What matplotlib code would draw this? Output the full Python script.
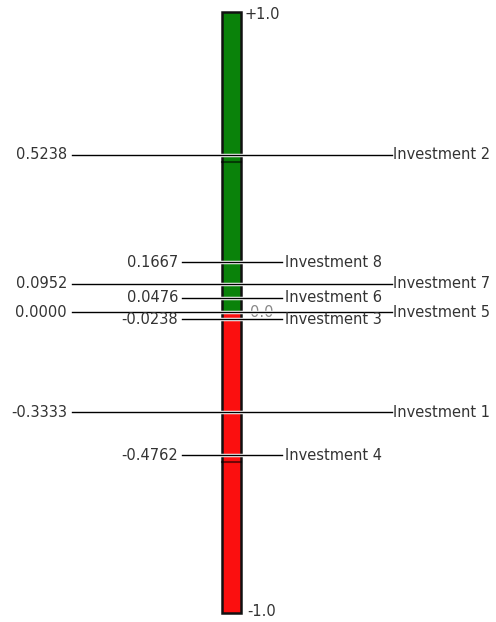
import matplotlib
matplotlib.use('Agg')
import matplotlib.pyplot as plt
import matplotlib.patheffects as pe

# investment scores
names = ["Investment 2", "Investment 8", "Investment 7", "Investment 6",
         "Investment 5", "Investment 3", "Investment 1", "Investment 4"]
values = [0.5238, 0.1667, 0.0952, 0.0476, 0.0000, -0.0238, -0.3333, -0.4762]
long_leader = [True, False, True, False, True, False, True, False]

fig = plt.figure(figsize=(4.96, 6.22), dpi=100)
ax = fig.add_axes([0, 0, 1, 1])
ax.set_xlim(0, 496)
# +1 sits near y=12px, -1 near y=613px
ax.set_ylim(-1.0316, 1.0399)
ax.axis('off')

bar_x, bar_w = 222, 19
ax.bar(bar_x, 1.0, width=bar_w, bottom=0, align='edge', color='#0a820a',
       edgecolor='#111111', linewidth=1.8, zorder=1)
ax.bar(bar_x, -1.0, width=bar_w, bottom=0, align='edge', color='#fb0f0f',
       edgecolor='#111111', linewidth=1.8, zorder=1)
# half-way marks inside the bar
for v in (0.5, -0.5):
    ax.plot([bar_x, bar_x + bar_w], [v, v], color='black', alpha=0.55, lw=1.5, zorder=2)

fs = 10.5
tc = '#333333'
ax.text(245, 0.99, "+1.0", fontsize=fs, color=tc, va='center', ha='left')
ax.text(247, -0.995, "-1.0", fontsize=fs, color=tc, va='center', ha='left')
ax.text(250, 0.0, "0.0", fontsize=fs, color='#888888', va='center', ha='left', zorder=2)

halo = [pe.withStroke(linewidth=2.5, foreground='white')]
for name, v, lng in zip(names, values, long_leader):
    if lng:
        x0, x1 = 72, 392
        tl, tr = 67, 393
    else:
        x0, x1 = 182, 282
        tl, tr = 178, 285
    ax.plot([x0, x1], [v, v], color='black', lw=1, zorder=3, path_effects=halo)
    ax.text(tl, v, f"{v:.4f}", fontsize=fs, color=tc, va='center', ha='right', zorder=4)
    ax.text(tr, v, name, fontsize=fs, color=tc, va='center', ha='left', zorder=4)

fig.savefig("out.png", dpi=100)
